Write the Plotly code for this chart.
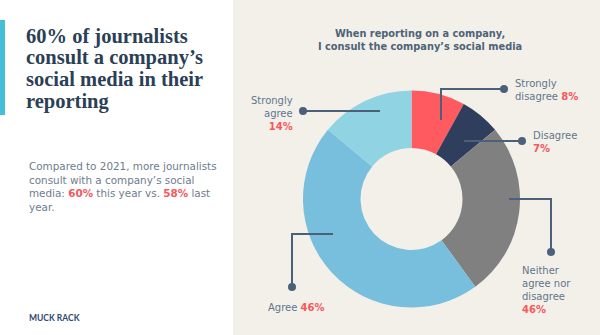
import plotly.graph_objects as go

# ---- data ----
categories = ["Strongly disagree", "Disagree", "Neither agree nor disagree", "Agree", "Strongly agree"]
slice_values = [8, 6, 26, 46, 14]
label_pcts = ["8%", "7%", "46%", "46%", "14%"]
slice_colors = ["#fe5a5f", "#2f3e5c", "#808080", "#77bfdc", "#90d4e4"]

title_lines = ["60% of journalists", "consult a company\u2019s", "social media in their", "reporting"]
W, H = 600, 335
RED = "#f5575c"
TXT = "#61768a"
LINE = "#4b6179"
SANS = "DejaVu Sans"


def px(x):
    return x / W


def py(y):
    return 1 - y / H


cx, cy, R = 411.5, 199, 108.5

fig = go.Figure()
fig.add_trace(go.Pie(
    labels=categories, values=slice_values, sort=False, direction="clockwise",
    rotation=0, hole=0.47, textinfo="none", hoverinfo="label+value",
    marker=dict(colors=slice_colors, line=dict(width=0)),
    domain=dict(x=[px(cx - R), px(cx + R)], y=[py(cy + R), py(cy - R)]),
    showlegend=False,
))

shapes = [
    dict(type="rect", xref="paper", yref="paper", x0=px(233), x1=1, y0=0, y1=1,
         fillcolor="#f3f0ea", line=dict(width=0), layer="below"),
    dict(type="rect", xref="paper", yref="paper", x0=0, x1=px(5), y0=py(115), y1=py(20),
         fillcolor="#43c0d8", line=dict(width=0), layer="below"),
]


def polyline(points):
    path = "M " + " L ".join(f"{px(x)},{py(y)}" for x, y in points)
    shapes.append(dict(type="path", xref="paper", yref="paper", path=path,
                       line=dict(color=LINE, width=2)))


def dot(x, y, r=4):
    shapes.append(dict(type="circle", xref="paper", yref="paper",
                       x0=px(x - r), x1=px(x + r), y0=py(y + r), y1=py(y - r),
                       fillcolor=LINE, line=dict(width=0)))


# leader lines
polyline([(303, 111), (380, 111)]); dot(303, 111)
polyline([(504, 89), (441, 89), (441, 120)]); dot(504, 89)
polyline([(522, 141), (464, 141)]); dot(522, 141)
polyline([(551, 252), (551, 199), (509, 199)]); dot(551, 252)
polyline([(292, 287), (292, 234), (333, 234)]); dot(292, 287)

annotations = []


def text(x, y, lines, size=10, color=TXT, xanchor="left", family=SANS, bold=False):
    t = "<br>".join(lines)
    if bold:
        t = f"<b>{t}</b>"
    annotations.append(dict(xref="paper", yref="paper", x=px(x), y=py(y), text=t,
                            showarrow=False, xanchor=xanchor, yanchor="middle", align=xanchor,
                            borderpad=0,
                            font=dict(size=size, color=color, family=family)))


def pct(s):
    return f"<span style='color:{RED}'><b>{s}</b></span>"


# title (one annotation per line for tight serif leading)
for i, ln in enumerate(title_lines):
    text(25, 36 + i * 21.7, [ln], size=20.5, color="#2b3f56", family="Liberation Serif", bold=True)

# subtext
sub = ["Compared to 2021, more journalists",
       "consult with a company\u2019s social",
       f"media: {pct('60%')} this year vs. {pct('58%')} last",
       "year."]
text(28, 186, sub, size=10.4, color="#6c7d8e")

text(28, 318, ["MUCK RACK"], size=8.5, color="#2d4a6e", family="Lato", bold=True)

# chart title
text(420, 39.5, ["When reporting on a company,", "I consult the company\u2019s social media"],
     size=9.8, color="#4d6377", xanchor="center", bold=True)

# labels
text(294, 114, ["Strongly", "agree", pct(label_pcts[4])], xanchor="right")
text(514, 90.5, ["Strongly", "disagree " + pct(label_pcts[0])])
text(532, 141.7, ["Disagree", pct(label_pcts[1])])
text(521, 289.5, ["Neither", "agree nor", "disagree", pct(label_pcts[2])])
text(296, 307, ["Agree " + pct(label_pcts[3])], xanchor="center")

fig.update_layout(width=W, height=H, margin=dict(l=0, r=0, t=0, b=0),
                  paper_bgcolor="white", plot_bgcolor="white",
                  shapes=shapes, annotations=annotations)

fig.write_html("out.html")
